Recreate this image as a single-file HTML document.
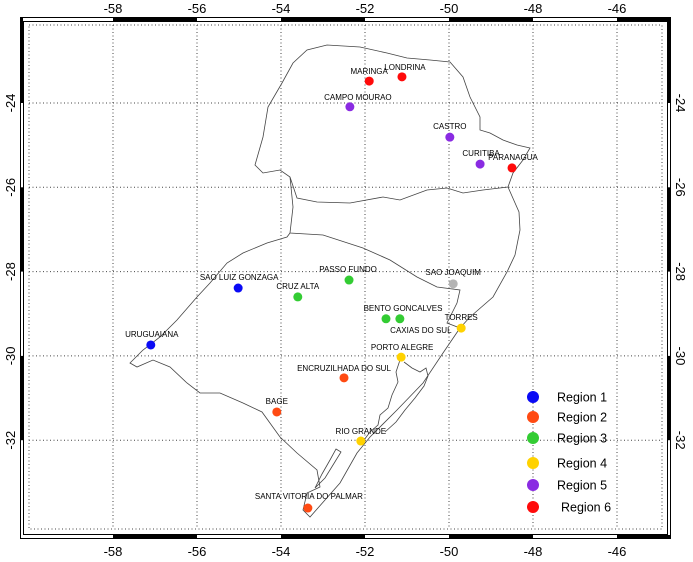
<!DOCTYPE html>
<html><head><meta charset="utf-8">
<style>
html,body{margin:0;padding:0;background:#fff;}
svg{display:block;font-family:"Liberation Sans",sans-serif;}
</style></head>
<body>
<svg id="map" width="693" height="562" viewBox="0 0 693 562" xmlns="http://www.w3.org/2000/svg">
<g id="frame"></g>
<g id="grid"></g>
<g fill="none" stroke="#444" stroke-width="0.8">
<path d="M255,165 L263,137 L268,107 L282,83 L293,63 L307,50 L327,45 L360,47 L387,53 L407,58 L430,60 L450,62 L463,77 L470,97 L480,117 L480,130 L490,133 L503,140 L517,145 L530,148 L523,160 L513,173 L508,187 L483,190 L463,193 L447,188 L427,190 L400,200 L383,197 L350,203 L317,202 L297,198 L290,177 L280,170 L263,173 Z"/>
<path d="M290,177 L293,207 L290,233 L323,235 L363,248 L390,260 L417,277 L437,287 L460,290 L457,303 L447,323 L460,328 L470,317 L493,297 L507,272 L515,255 L520,230 L519,212 L508,187"/>
<path d="M290,233 L287,237 L267,243 L243,253 L227,263 L210,283 L197,297 L177,320 L160,337 L143,350 L130,363 L137,367 L153,360 L170,367 L187,383 L200,393 L220,393 L243,403 L262,412 L280,437 L297,453 L317,470 L320,487 L307,493 L303,510 L310,517 L340,483 L357,453 L370,437 L397,410 L423,383 L443,353 L460,328"/>
<path d="M400,360 L396,372 L398,382 L392,395 L388,408 L380,415 L378,425 L370,432 L364,440 M404,362 L412,368 L420,372 L426,368 L428,376 L424,386 L415,398 L405,410 L396,422 L385,432"/>
<path d="M336,449 L341,452 L333,465 L325,478 L315,488 L322,474 L330,460 Z"/>
</g>
<g id="points"></g>
<g id="legend"></g>
</svg>
<script>
const stationNames = ["MARINGA","LONDRINA","CAMPO MOURAO","CASTRO","CURITIBA","PARANAGUA","SAO JOAQUIM","TORRES","PASSO FUNDO","CRUZ ALTA","BENTO GONCALVES","CAXIAS DO SUL","SAO LUIZ GONZAGA","URUGUAIANA","PORTO ALEGRE","ENCRUZILHADA DO SUL","BAGE","RIO GRANDE","SANTA VITORIA DO PALMAR"];
const stationLon = [-51.90,-51.12,-52.36,-49.98,-49.26,-48.50,-49.90,-49.71,-52.38,-53.60,-51.50,-51.17,-55.02,-57.10,-51.14,-52.50,-54.10,-52.10,-53.36];
const stationLat = [-23.48,-23.38,-24.09,-24.81,-25.45,-25.54,-28.29,-29.34,-28.20,-28.60,-29.12,-29.12,-28.39,-29.74,-30.03,-30.52,-31.33,-32.02,-33.61];
const stationRegion = [6,6,5,5,5,6,0,4,3,3,3,3,1,1,4,2,2,4,2];
const regionLabels = ["Region 1","Region 2","Region 3","Region 4","Region 5","Region 6"];
const lonTicks = [-58,-56,-54,-52,-50,-48,-46];
const latTicks = [-24,-26,-28,-30,-32];

const regionColors = ["#b4b4b4","#0a0af5","#ff4a12","#33cc33","#ffd200","#8a2be2","#ff0a0a"];
const labelDx = [0,3,8,0,1,1,0,0,-1,0,17,21,1,1,1,0,0,0,1];
const labelDy = [-10,-10,-10,-11,-11,-11,-12,-11,-11,-11,-11,11,-11,-11,-10,-10,-11,-10,-12];
const NS = "http://www.w3.org/2000/svg";
function xs(lon){ return 113 + (lon + 58) * 42; }
function ys(lat){ return 103 + (-24 - lat) * 42.15; }
function mk(tag, attrs, parent){ const e=document.createElementNS(NS,tag); for(const k in attrs) e.setAttribute(k,attrs[k]); parent.appendChild(e); return e; }

const fr = document.getElementById('frame');
let r;
r = mk('rect',{x:20.5,y:17.5,width:650,height:521,fill:'#fff',stroke:'#000','stroke-width':1},fr);


r = mk('rect',{x:23.5,y:21.5,width:644,height:513,fill:'#fff',stroke:'#000','stroke-width':1},fr);


const xEdges = [xs(-60), ...lonTicks.map(xs), 671];
for (let i=0;i<xEdges.length-1;i++){
  if (i%2===1){
    const x0=Math.max(20,xEdges[i]), x1=Math.min(671,xEdges[i+1]);
    r = mk('rect',{x:x0,y:17,width:x1-x0,height:4,fill:'#000'},fr);
    
    
    r = mk('rect',{x:x0,y:535,width:x1-x0,height:4,fill:'#000'},fr);
    
    
  }
}
const yEdges = [17, ...latTicks.map(ys), 539];
for (let i=0;i<yEdges.length-1;i++){
  if (i%2===0){
    const y0=yEdges[i], y1=Math.min(539,yEdges[i+1]);
    r = mk('rect',{x:20,y:y0,width:3,height:y1-y0,fill:'#000'},fr);
    
    
    r = mk('rect',{x:668,y:y0,width:3,height:y1-y0,fill:'#000'},fr);
    
    
  }
}

const g = document.getElementById('grid');
const dash = {stroke:'#444','stroke-width':1,'stroke-dasharray':'1 2.5',fill:'none'};
r = mk('rect',Object.assign({x:29,y:25,width:633,height:504},dash),g);


lonTicks.forEach(v=>{
  const x=xs(v);
  const l=mk('line',Object.assign({x1:x,x2:x,y1:25,y2:529},dash),g);
  
  
  const t1=mk('text',{x:x,y:13,'text-anchor':'middle','font-size':13},g);
  t1.textContent=v;
  
  
  const t2=mk('text',{x:x,y:556,'text-anchor':'middle','font-size':13},g);
  t2.textContent=v;
  
  
});
latTicks.forEach(v=>{
  const y=ys(v);
  const l=mk('line',Object.assign({x1:29,x2:662,y1:y,y2:y},dash),g);
  
  
  const t1=mk('text',{x:0,y:0,'text-anchor':'middle','font-size':13,transform:`translate(15,${y}) rotate(-90)`},g);
  t1.textContent=v;
  
  
  const t2=mk('text',{x:0,y:0,'text-anchor':'middle','font-size':13,transform:`translate(676,${y}) rotate(90)`},g);
  t2.textContent=v;
  
  
});

const pg = document.getElementById('points');
stationNames.forEach((n,i)=>{
  const x=xs(stationLon[i]), y=ys(stationLat[i]);
  const c=mk('circle',{cx:x,cy:y,r:4.5,fill:regionColors[stationRegion[i]]},pg);
  
  
  const t=mk('text',{x:x+labelDx[i],y:y+labelDy[i]+3,'text-anchor':'middle','font-size':8},pg);
  t.textContent=n;
  
  
});

const lg = document.getElementById('legend');
const legY=[397,417,438,463,485,507];
regionLabels.forEach((n,i)=>{
  const c=mk('circle',{cx:533,cy:legY[i],r:6,fill:regionColors[i+1]},lg);
  
  
  const t=mk('text',{x:i===5?561:557,y:legY[i]+4.5,'font-size':12.5},lg);
  t.textContent=n;
  
  
});
</script>
</body></html>
